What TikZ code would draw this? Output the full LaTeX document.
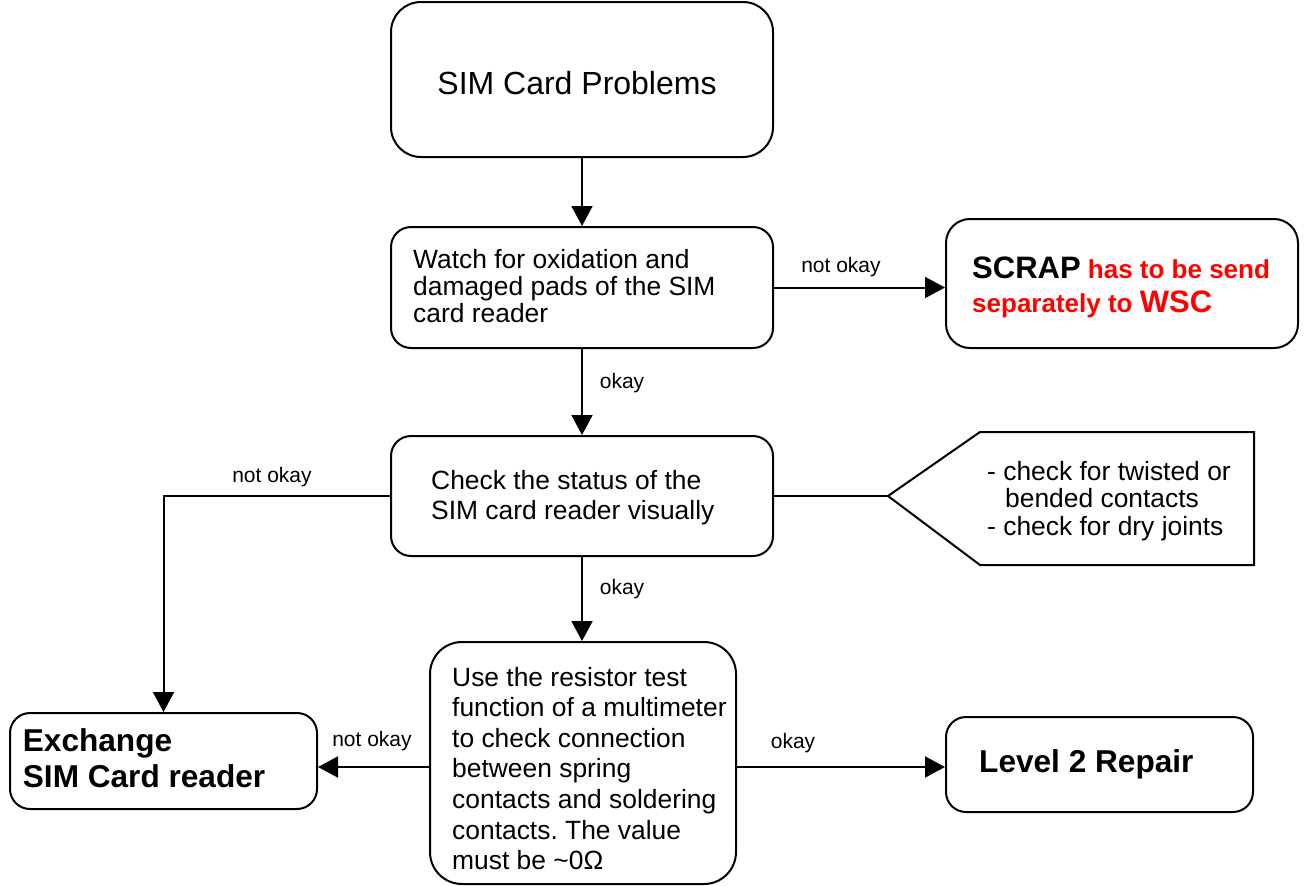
\documentclass[tikz,border=0pt]{standalone}
\usepackage{fontspec}
\setmainfont{Liberation Sans}
\usetikzlibrary{arrows.meta}
\frenchspacing
\begin{document}
\begin{tikzpicture}[x=1pt,y=-1pt,
  box/.style={draw, line width=2pt, inner sep=0pt, rounded corners=#1},
  box/.default=20pt,
  txt/.style={inner sep=0pt, align=left, anchor=west, font=\fontsize{26.4}{27}\selectfont},
  lbl/.style={inner sep=0pt, font=\fontsize{21}{24}\selectfont},
  conn/.style={line width=2pt},
  arr/.style={conn, -{Triangle[length=20pt,width=21pt]}},
]
\useasboundingbox (0,0) rectangle (1304,886);

% boxes
\node[box=30pt, minimum width=382pt, minimum height=155pt] (start) at (582,79.5) {};
\node[box, minimum width=382pt, minimum height=121pt] (watch) at (582,287.5) {};
\node[box=24pt, minimum width=352pt, minimum height=129pt] (scrap) at (1122,283.5) {};
\node[box, minimum width=382pt, minimum height=120pt] (check) at (582,496) {};
\node[box=32pt, minimum width=306pt, minimum height=242pt] (res) at (583,763) {};
\node[box, minimum width=307pt, minimum height=96pt] (exch) at (163.5,761) {};
\node[box, minimum width=307pt, minimum height=95pt] (lev) at (1099.5,764.5) {};

% callout
\coordinate (tip) at (888,496);
\draw[conn] (tip) -- (980,432) -- (1254,432) -- (1254,565) -- (980,565) -- cycle;

% texts
\node[txt, anchor=center, font=\fontsize{32}{36}\selectfont] (tstart) at (577,83) {SIM Card Problems};
\node[txt] (twatch) at (413,286) {Watch for oxidation and\\damaged pads of the SIM\\card reader};
\node[txt, font=\fontsize{26}{34}\selectfont\bfseries] (tscrap) at (972,287)
  {{\fontsize{31}{34}\selectfont SCRAP} \textcolor{red}{has to be send}\\\textcolor{red}{separately to {\fontsize{31}{34}\selectfont WSC}}};
\node[txt, font=\fontsize{26.4}{30}\selectfont] (tcheck) at (431,498)
  {Check the status of the\\SIM card reader visually};
\node[txt, font=\fontsize{26.4}{27.5}\selectfont] (tcall) at (987,501)
  {- check for twisted or\\\hspace*{18pt}bended contacts\\- check for dry joints};
\node[txt, font=\fontsize{26.4}{30.6}\selectfont] (tres) at (452,768.5)
  {Use the resistor test\\function of a multimeter\\to check connection\\between spring\\contacts and soldering\\contacts. The value\\must be \textasciitilde 0Ω};
\node[txt, font=\fontsize{31.6}{36}\selectfont\bfseries] (texch) at (22.7,758.5) {Exchange\\SIM Card reader};
\node[txt, font=\fontsize{31.6}{36}\selectfont\bfseries] (tlev) at (979,764) {Level 2 Repair};

% connectors
\draw[arr] (start) -- (watch);
\draw[arr] (watch.east) -- (watch.east -| scrap.west);
\draw[arr] (watch) -- (check);
\draw[arr] (check.west) -| (exch.north);
\draw[conn] (check.east) -- (tip);
\draw[arr] (check.south) -- (check.south |- res.north);
\draw[arr] ([yshift=-4pt]res.west) -- ([yshift=-4pt]res.west -| exch.east);
\draw[arr] ([yshift=-4pt]res.east) -- ([yshift=-4pt]res.east -| lev.west);

% labels
\node[lbl] (l1) at (841,267) {not okay};
\node[lbl] (l2) at (622,383) {okay};
\node[lbl] (l3) at (272,477) {not okay};
\node[lbl] (l4) at (622,589) {okay};
\node[lbl] (l5) at (372,741) {not okay};
\node[lbl] (l6) at (793,743) {okay};
\end{tikzpicture}
\end{document}
